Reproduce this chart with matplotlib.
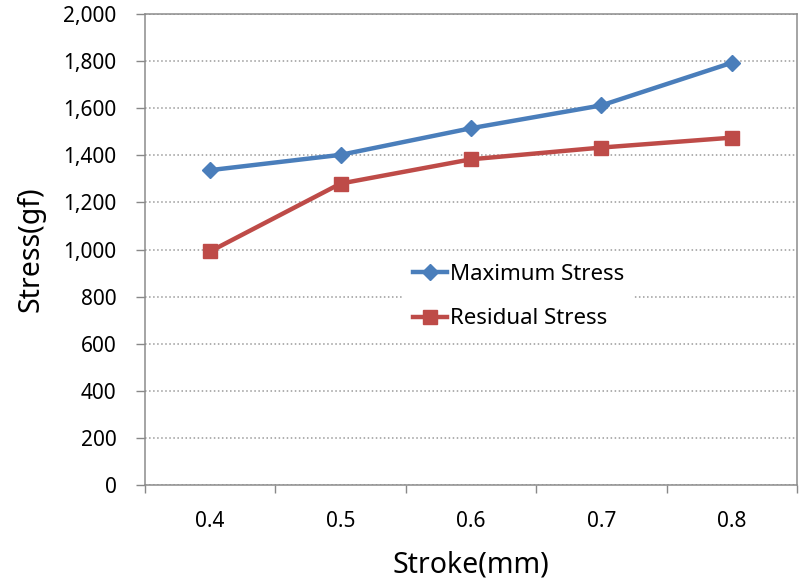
import matplotlib
matplotlib.use("Agg")
import matplotlib.pyplot as plt
import numpy as np

# data
strokes = ['0.4', '0.5', '0.6', '0.7', '0.8']
max_stress = [1337, 1402, 1515, 1612, 1793]
residual_stress = [992, 1280, 1383, 1433, 1475]
y_ticks = [0, 200, 400, 600, 800, 1000, 1200, 1400, 1600, 1800, 2000]

plt.rcParams['font.family'] = ['Noto Sans', 'DejaVu Sans']

fig = plt.figure(figsize=(8.04, 5.82), dpi=100)
ax = fig.add_axes([0.1803, 0.1667, 0.811, 0.8092])

x = np.arange(len(strokes))
ax.plot(x, max_stress, color='#4A7EBB', lw=3.2, marker='D', ms=8.5,
        label='Maximum Stress', zorder=3)
ax.plot(x, residual_stress, color='#BE4B48', lw=3.2, marker='s', ms=10,
        label='Residual Stress', zorder=3)

ax.set_xlim(-0.5, len(strokes) - 0.5)
ax.set_ylim(0, 2000)
ax.set_yticks(y_ticks)
ax.set_yticklabels([f'{v:,}' for v in y_ticks])
ax.yaxis.grid(True, linestyle=':', color='#9A9A9A', lw=1.1)
ax.set_axisbelow(True)

# category labels in the middle, tick marks between categories
ax.set_xticks(x)
ax.set_xticklabels(strokes)
ax.set_xticks(np.arange(-0.5, len(strokes)), minor=True)
ax.tick_params(axis='x', which='major', length=0, pad=19, labelsize=15)
ax.tick_params(axis='x', which='minor', length=6, width=1, color='#888888')
ax.tick_params(axis='y', length=6.5, width=1, color='#888888', pad=14, labelsize=15)

for s in ax.spines.values():
    s.set_color('#8C8C8C')
    s.set_linewidth(1.1)

ax.set_xlabel('Stroke(mm)', fontsize=20.5, labelpad=13)
ax.set_ylabel('Stress(gf)', fontsize=20.5, labelpad=13)

leg = ax.legend(loc='upper left', bbox_to_anchor=(0.397, 0.488), frameon=True,
                fontsize=16, handlelength=1.55, handletextpad=0.15,
                labelspacing=1.05, borderaxespad=0, borderpad=0.4)
leg.get_frame().set_edgecolor('none')
leg.get_frame().set_facecolor('white')
leg.get_frame().set_alpha(1)

fig.savefig('out.png', dpi=100)
